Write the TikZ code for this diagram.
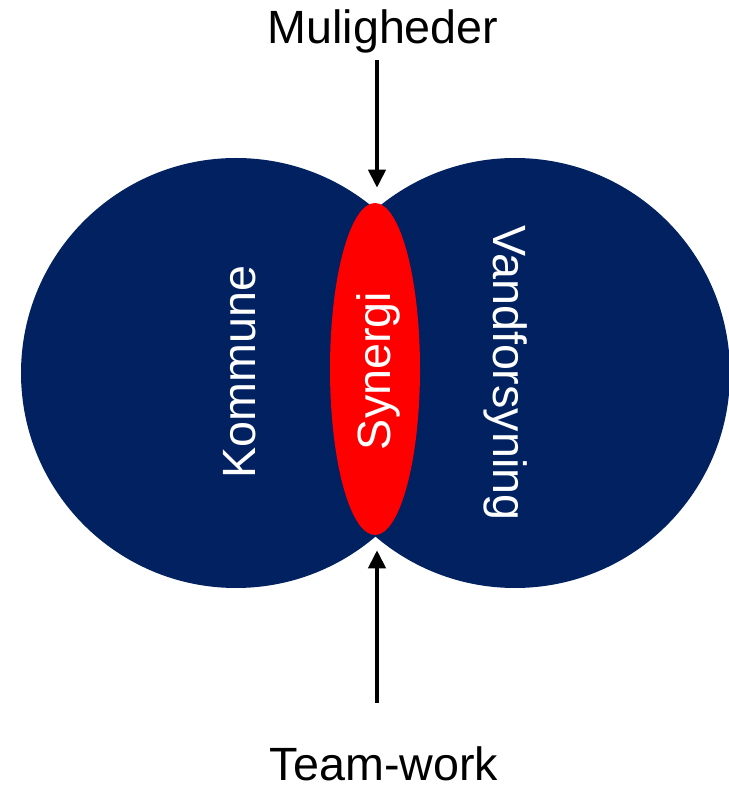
\documentclass[tikz,border=0pt]{standalone}
\usepackage{fontspec}
\setmainfont{Liberation Sans}
\usepackage{xcolor}
\usetikzlibrary{shapes,arrows.meta}
\definecolor{navy}{HTML}{022160}
\definecolor{roed}{HTML}{FF0000}

\begin{document}
\begin{tikzpicture}[x=0.75pt,y=0.75pt,
  tekst/.style={font=\fontsize{35}{42}\selectfont},
  pil/.style={line width=3pt,-{Triangle[length=13.5pt,width=12.75pt]}}]
\useasboundingbox (0,0) rectangle (729,790);
\fill [navy] (236,417) circle (215);
\fill [navy] (515,417) circle (215);
\node [ellipse, fill=roed, inner sep=0pt, minimum width=67.5pt, minimum height=249pt] (synergi) at (375,421) {};
\node [tekst, white, rotate=90] (synergitekst) at (378,419) {Synergi};
\node [tekst, white, rotate=90] (kommune) at (240,418) {Kommune};
\node [tekst, white, rotate=-90] (vand) at (506,417) {Vandforsyning};
\node [tekst, anchor=base] (muligheder) at (383,746) {Muligheder};
\node [tekst, anchor=base] (teamwork) at (384,9) {Team-work};
\coordinate (toppil) at (377,730);
\coordinate (bundpil) at (377,87);
\draw [pil, shorten >=11.25pt] (toppil) -- (synergi.north -| toppil);
\draw [pil, shorten >=11.25pt] (bundpil) -- (synergi.south -| bundpil);
\end{tikzpicture}
\end{document}
